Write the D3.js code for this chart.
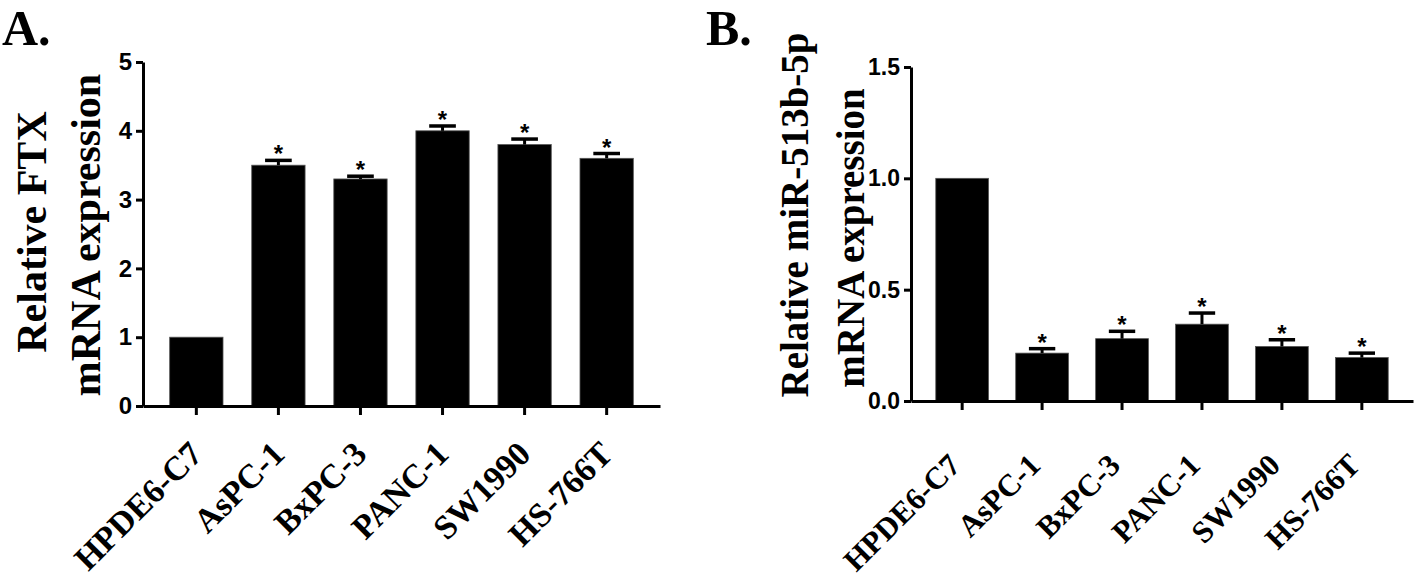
<!DOCTYPE html>
<html>
<head>
<meta charset="utf-8">
<script src="https://cdn.jsdelivr.net/npm/d3@7"></script>
<style>
  html, body { margin: 0; padding: 0; background: #fff; }
  svg { display: block; }
</style>
</head>
<body>
<svg id="chart" width="1418" height="582"></svg>
<script>
// ---- Data ----
const categories = ["HPDE6-C7", "AsPC-1", "BxPC-3", "PANC-1", "SW1990", "HS-766T"];
const ftxValues = [1.0, 3.5, 3.3, 4.0, 3.8, 3.6];
const ftxErrors = [0, 0.07, 0.04, 0.07, 0.08, 0.07];
const mirValues = [1.0, 0.215, 0.28, 0.345, 0.245, 0.195];
const mirErrors = [0, 0.02, 0.033, 0.05, 0.03, 0.02];
const significant = [false, true, true, true, true, true];
const ftxTicks = [0, 1, 2, 3, 4, 5];
const mirTicks = [0, 0.5, 1.0, 1.5];

const svg = d3.select("#chart");
const serif = "'Liberation Serif', 'Times New Roman', serif";
const sans = "'Liberation Sans', Arial, sans-serif";

function drawPanel(cfg) {
  const g = svg.append("g");
  const x = d3.scaleBand().domain(categories).range([cfg.x0, cfg.x1])
    .paddingInner(cfg.padIn).paddingOuter(cfg.padOut);
  const y = d3.scaleLinear().domain(cfg.domain).range([cfg.y0, cfg.y1]);
  const data = categories.map((c, i) => ({ c, v: cfg.values[i], e: cfg.errors[i], s: significant[i] }));

  // bars
  g.selectAll("rect.bar").data(data).join("rect")
    .attr("class", "bar")
    .attr("x", d => x(d.c))
    .attr("width", x.bandwidth())
    .attr("y", d => y(d.v))
    .attr("height", d => y(0) - y(d.v))
    .attr("fill", "#000")
    .attr("stroke", "#555")
    .attr("stroke-width", 0.8);

  // error bars
  const eb = data.filter(d => d.e > 0);
  g.selectAll("line.err").data(eb).join("line")
    .attr("x1", d => x(d.c) + x.bandwidth() / 2)
    .attr("x2", d => x(d.c) + x.bandwidth() / 2)
    .attr("y1", d => y(d.v))
    .attr("y2", d => y(d.v + d.e))
    .attr("stroke", "#000").attr("stroke-width", 3);
  g.selectAll("line.cap").data(eb).join("line")
    .attr("x1", d => x(d.c) + x.bandwidth() / 4)
    .attr("x2", d => x(d.c) + x.bandwidth() * 3 / 4)
    .attr("y1", d => y(d.v + d.e))
    .attr("y2", d => y(d.v + d.e))
    .attr("stroke", "#000").attr("stroke-width", 3.5);

  // significance stars
  g.selectAll("text.star").data(data.filter(d => d.s)).join("text")
    .attr("x", d => x(d.c) + x.bandwidth() / 2)
    .attr("y", d => y(d.v + d.e) + 2)
    .attr("text-anchor", "middle")
    .attr("font-family", sans)
    .attr("font-size", 24)
    .attr("font-weight", "bold")
    .text("*");

  // y axis
  const yAxis = d3.axisLeft(y).tickValues(cfg.ticks).tickFormat(d3.format(cfg.fmt))
    .tickSize(7).tickSizeOuter(0).tickPadding(4);
  const ya = g.append("g").attr("transform", `translate(${cfg.x0},0)`).call(yAxis);
  ya.select(".domain").attr("stroke", "#000").attr("stroke-width", 3);
  ya.selectAll(".tick line").attr("stroke", "#000").attr("stroke-width", 3);
  ya.selectAll(".tick text").attr("font-family", sans).attr("font-weight", "bold")
    .attr("font-size", cfg.tickFont).attr("fill", "#000");

  // x axis
  const xAxis = d3.axisBottom(x).tickSize(9).tickSizeOuter(0).tickFormat("");
  const xa = g.append("g").attr("transform", `translate(0,${cfg.y0})`).call(xAxis);
  xa.select(".domain").attr("stroke", "#000").attr("stroke-width", 3);
  xa.selectAll(".tick line").attr("stroke", "#000").attr("stroke-width", 3);
  xa.selectAll(".tick text").remove();

  // x labels rotated
  g.selectAll("text.xlab").data(categories).join("text")
    .attr("transform", d => `translate(${x(d) + x.bandwidth() / 2 + cfg.labDx},${cfg.y0 + cfg.labDy}) rotate(-45)`)
    .attr("text-anchor", "end")
    .attr("font-family", serif)
    .attr("font-weight", "bold")
    .attr("font-size", cfg.labFont)
    .text(d => d);

  // y title (two lines)
  cfg.yTitle.forEach((t, i) => {
    g.append("text")
      .attr("transform", `translate(${t.x},${t.cy}) rotate(-90)`)
      .attr("text-anchor", "middle")
      .attr("font-family", serif)
      .attr("font-weight", "bold")
      .attr("font-size", cfg.titleFont)
      .text(t.text);
  });

  // panel letter
  g.append("text")
    .attr("x", cfg.letterX).attr("y", 45)
    .attr("font-family", serif).attr("font-weight", "bold")
    .attr("font-size", 50)
    .text(cfg.letter);
}

drawPanel({
  letter: "A.", letterX: 2,
  x0: 143, x1: 660, y0: 406, y1: 62,
  padIn: 0.35, padOut: 0.325,
  domain: [0, 5], values: ftxValues, errors: ftxErrors,
  ticks: ftxTicks, fmt: "d", tickFont: 24,
  labDx: 8, labDy: 50, labFont: 34,
  titleFont: 42,
  yTitle: [{ text: "Relative FTX", x: 46, cy: 232 }, { text: "mRNA expression", x: 100, cy: 235 }]
});

drawPanel({
  letter: "B.", letterX: 706,
  x0: 911, x1: 1413, y0: 401, y1: 67,
  padIn: 0.34, padOut: 0.31,
  domain: [0, 1.5], values: mirValues, errors: mirErrors,
  ticks: mirTicks, fmt: ".1f", tickFont: 23,
  labDx: 0, labDy: 66, labFont: 31,
  titleFont: 39,
  yTitle: [{ text: "Relative miR-513b-5p", x: 808, cy: 215 }, { text: "mRNA expression", x: 864, cy: 238 }]
});
</script>
</body>
</html>
